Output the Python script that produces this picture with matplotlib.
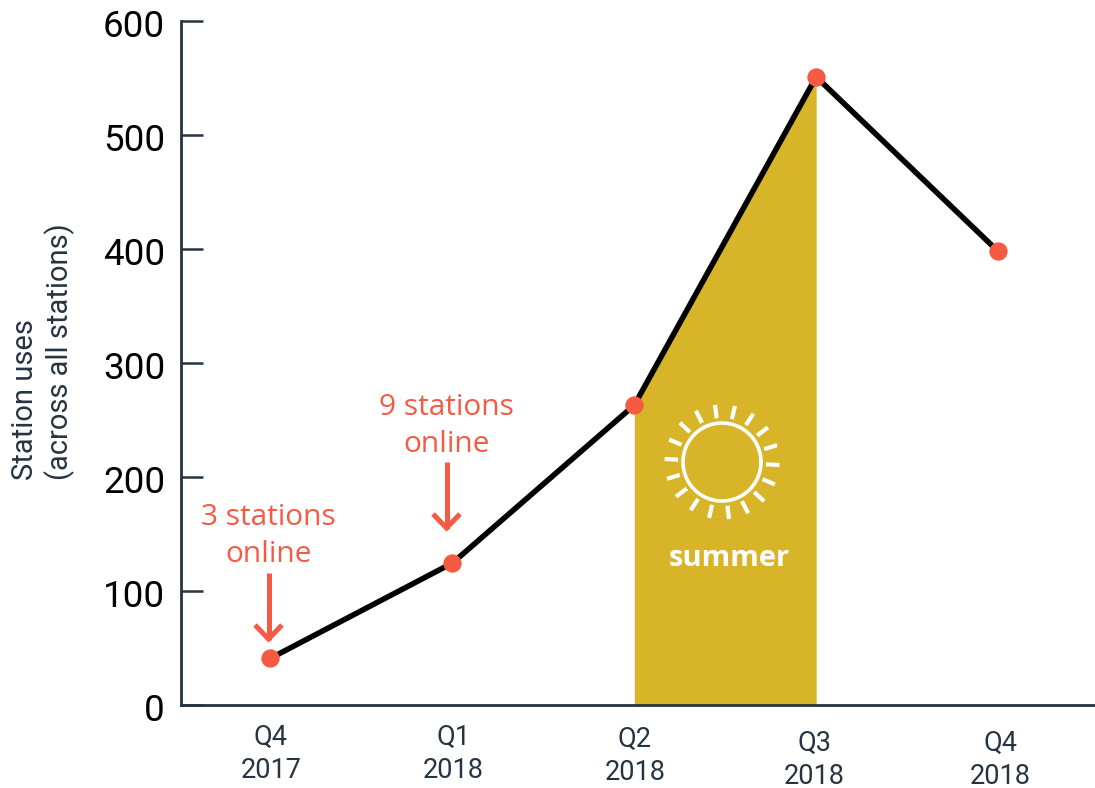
import numpy as np
import matplotlib
matplotlib.use("Agg")
import matplotlib.pyplot as plt
from matplotlib.transforms import ScaledTranslation

quarters = ["Q4\n2017", "Q1\n2018", "Q2\n2018", "Q3\n2018", "Q4\n2018"]
station_uses = [41, 124.5, 263, 551, 398]
y_ticks = [0, 100, 200, 300, 400, 500, 600]
# the quarter labels are hand placed, slightly off the points
label_dx = [0.5, 1, 0.5, -2, 2]
label_dy = [0, 0, 2, 6, 6]
online_notes = ["3 stations\nonline", "9 stations\nonline"]

RED = "#F55A42"
GOLD = "#D8B428"
AXIS = "#263442"

W, H = 1095, 788
fig = plt.figure(figsize=(W / 100, H / 100), dpi=100, facecolor="white")

left, right, top, bottom = 181, 1095, 21, 705
ax = fig.add_axes([left / W, 1 - bottom / H, (right - left) / W, (bottom - top) / H])
ax.set_xlim(-0.492, 4.533)
ax.set_ylim(0, 600)
ax.patch.set_alpha(0)

x = np.arange(len(station_uses))
ax.fill_between(x[2:4], 0, station_uses[2:4], color=GOLD, lw=0, zorder=1)
ax.plot(x, station_uses, color="black", lw=4.0, solid_capstyle="round", zorder=2)
ax.plot(x, station_uses, ls="none", marker="o", ms=13.2, mfc=RED, mec=RED, mew=0, zorder=3)

for s in ["top", "right"]:
    ax.spines[s].set_visible(False)
for s in ["left", "bottom"]:
    ax.spines[s].set_color(AXIS)
    ax.spines[s].set_linewidth(2.0)

ax.set_yticks(y_ticks)
ax.set_xticks([])
ax.tick_params(axis="y", direction="in", length=16, width=1.8, color=AXIS, pad=11.5,
               labelsize=26.5, labelcolor="black")
nudge = ScaledTranslation(0, -1.3 / 72, fig.dpi_scale_trans)
for lab in ax.get_yticklabels():
    lab.set_fontfamily("Roboto")
    lab.set_transform(lab.get_transform() + nudge)

# overlay in pixel coordinates for the notes and the sun
over = fig.add_axes([0, 0, 1, 1])
over.set_xlim(0, W)
over.set_ylim(H, 0)
over.axis("off")
over.patch.set_alpha(0)

for i, q in enumerate(quarters):
    over.text(ax.transData.transform((i, 0))[0] + label_dx[i], 754 + label_dy[i], q, ha="center", va="center",
              fontfamily="Roboto", fontsize=19.5, color=AXIS, linespacing=1.28)

over.text(43, 480, "Station uses\n(across all stations)", rotation=90, ha="center", va="bottom",
          multialignment="left", fontfamily="Roboto", fontsize=21, color=AXIS, linespacing=1.25)

note_x = [268.5, 446.5]
note_y = [536, 426]
arrow_top = [573, 462]
for note, nx, ny, ay in zip(online_notes, note_x, note_y, arrow_top):
    over.text(nx, ny, note, ha="center", va="center", fontfamily="Open Sans", fontsize=21.5,
              color=RED, linespacing=1.37)
    over.plot([nx, nx], [ay, ay + 67], color=RED, lw=3.6, solid_capstyle="butt")
    over.plot([nx - 13.5, nx, nx + 13.5], [ay + 52, ay + 66, ay + 52], color=RED, lw=3.6,
              solid_joinstyle="miter", solid_capstyle="butt")

# sun: ring plus 18 short rays
sun_x, sun_y = 722, 462
t = np.linspace(0, 2 * np.pi, 200)
over.plot(sun_x + 39 * np.cos(t), sun_y + 39 * np.sin(t), color="white", lw=2.6)
for a in np.deg2rad(3 + 20 * np.arange(18)):
    over.plot([sun_x + 44 * np.cos(a), sun_x + 57.5 * np.cos(a)],
              [sun_y + 44 * np.sin(a), sun_y + 57.5 * np.sin(a)],
              color="white", lw=3.0, solid_capstyle="butt")

over.text(729, 559, "summer", ha="center", va="center", fontfamily="Open Sans",
          fontweight="bold", fontsize=21, color="white")

fig.savefig("out.png", dpi=100)
